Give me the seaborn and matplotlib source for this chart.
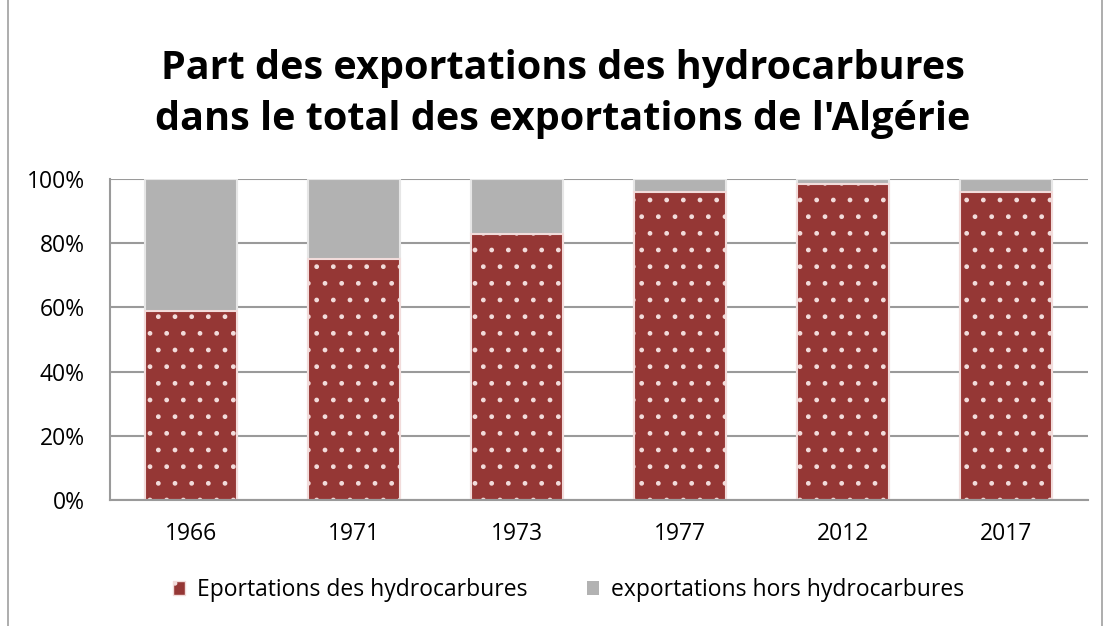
import pandas as pd
import seaborn as sb
import matplotlib.pyplot as plt
from matplotlib.patches import Rectangle

# values (%)
annees = ['1966', '1971', '1973', '1977', '2012', '2017']
hydrocarbures = [59, 75, 83, 96, 98.5, 96]
hors_hydro = [100 - v for v in hydrocarbures]

df = pd.DataFrame({'annee': annees, 'hydro': hydrocarbures,
                   'total': [a + b for a, b in zip(hydrocarbures, hors_hydro)]})

sb.set_style('white')
plt.rcParams['font.family'] = ['Open Sans', 'DejaVu Sans']

fig = plt.figure(figsize=(11.1, 6.26), dpi=100)
ax = fig.add_axes([0.099, 0.201, 0.881, 0.513])

rouge = '#953735'
gris = '#b2b2b2'

# gray = total (hors hydrocarbures on top), red drawn over it
sb.barplot(x='annee', y='total', data=df, color=gris, width=0.565,
           edgecolor='#e6e6e6', linewidth=1.5, ax=ax, saturation=1)
sb.barplot(x='annee', y='hydro', data=df, color=rouge, width=0.565,
           edgecolor='#f2dcdb', linewidth=1.5, ax=ax, saturation=1)
for p in ax.patches[len(annees):]:
    p.set_hatch('.')

ax.set_ylim(0, 100)
ax.set_yticks(range(0, 101, 20))
ax.set_yticklabels([f'{t}%' for t in range(0, 101, 20)])
ax.yaxis.grid(True, color='#9a9a9a', linewidth=1.5)
ax.set_axisbelow(True)
ax.set_xlabel('')
ax.set_ylabel('')
ax.tick_params(axis='both', labelsize=16.5, length=0, colors='black')
ax.tick_params(axis='x', pad=16)
ax.tick_params(axis='y', pad=18)
for s in ['top', 'right']:
    ax.spines[s].set_visible(False)
for s in ['left', 'bottom']:
    ax.spines[s].set_color('#9a9a9a')
    ax.spines[s].set_linewidth(1.5)

fig.text(0.507, 0.85, "Part des exportations des hydrocarbures\ndans le total des exportations de l'Algérie",
         ha='center', va='center', fontsize=28.5, fontweight='bold', linespacing=1.42, color='black')

h1 = Rectangle((0, 0), 1, 1, facecolor=rouge, hatch='.', edgecolor='#f2dcdb')
h2 = Rectangle((0, 0), 1, 1, facecolor=gris, edgecolor='none')
fig.legend([h1, h2], ['Eportations des hydrocarbures', 'exportations hors hydrocarbures'],
           loc='center', bbox_to_anchor=(0.512, 0.057), ncol=2, frameon=False,
           fontsize=16.5, handlelength=0.55, handleheight=0.55, columnspacing=2.6,
           handletextpad=0.5, labelcolor='black')

# outer chart border
fig.patches.append(Rectangle((0.007, -0.01), 0.986, 1.02, transform=fig.transFigure,
                             fill=False, edgecolor='#a0a0a0', linewidth=1.2))

plt.savefig('out.png', dpi=100)
